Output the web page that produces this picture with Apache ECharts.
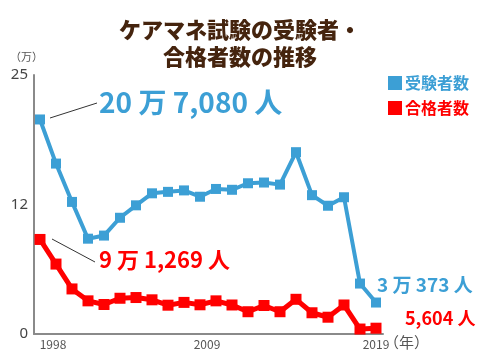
<!DOCTYPE html>
<html><head><meta charset="utf-8">
<script src="https://cdn.jsdelivr.net/npm/echarts@6/dist/echarts.min.js"></script>
<style>html,body{margin:0;padding:0;background:#fff}#c{width:480px;height:360px}</style>
</head><body><div id="c"></div>
<script>
const years = [1998,1999,2000,2001,2002,2003,2004,2005,2006,2007,2008,2009,2010,2011,2012,2013,2014,2015,2016,2017,2018,2019];
const examinees = [20.708,16.45,12.75,9.2,9.5,11.22,12.42,13.58,13.72,13.86,13.25,14.0,13.92,14.55,14.62,14.42,17.55,13.4,12.38,13.2,4.87,3.0373];
const passers = [9.1269,6.75,4.35,3.2,2.85,3.45,3.52,3.3,2.78,3.05,2.82,3.2,2.8,2.15,2.75,2.15,3.35,2.05,1.62,2.8,0.48,0.5604];
const seriesNames = ['受験者数','合格者数'];
const yTickLabels = ['0','12','25'];
const xTickLabels = ['1998','2009','2019'];
const titleLines = ['ケアマネ試験の受験者・','合格者数の推移'];
const notes = ['20 万 7,080 人','9 万 1,269 人','3 万 373 人','5,604 人'];
const BLUE = '#3c9fd5', RED = '#ff0000';
const chart = echarts.init(document.getElementById('c'));
const F = '"Noto Sans CJK JP","Noto Sans",sans-serif';
chart.setOption({
  animation:false,
  title:{text:titleLines.join('\n'),left:'center',top:11,textStyle:{fontFamily:F,fontSize:22,fontWeight:900,color:'#45240e',lineHeight:27}},
  legend:{orient:'vertical',left:383,top:70,itemWidth:14,itemHeight:14,itemGap:9,icon:'rect',
    data:[{name:seriesNames[0],textStyle:{color:BLUE}},{name:seriesNames[1],textStyle:{color:RED}}],
    textStyle:{fontFamily:F,fontSize:16,fontWeight:'bold',padding:[0,0,0,-2]}},
  grid:{left:34,right:97,top:75,bottom:26},
  xAxis:{type:'value',min:1997.625,max:2019.4375,
    axisLine:{lineStyle:{color:'#8a8a8a',width:2}},axisTick:{show:false},splitLine:{show:false},
    axisLabel:{customValues:years.filter(y=>xTickLabels.includes(String(y))),
      formatter:v=>{const i=xTickLabels.indexOf(String(Math.round(v)));return ['{a|'+xTickLabels[0]+'}','{b|'+xTickLabels[1]+'}','{c|'+xTickLabels[2]+'}'][i];},
      color:'#555',fontFamily:F,fontSize:12,margin:4,
      rich:{a:{fontFamily:F,fontSize:12,color:'#555',padding:[0,0,0,26]},b:{fontFamily:F,fontSize:12,color:'#555',padding:[0,18,0,0]},c:{fontFamily:F,fontSize:12,color:'#555'}}}},
  yAxis:{type:'value',min:0,max:25,interval:12.5,
    axisLine:{show:true,lineStyle:{color:'#8a8a8a',width:2}},axisTick:{show:false},splitLine:{show:false},
    axisLabel:{formatter:v=>yTickLabels[Math.round(v/12.5)],color:'#444',fontFamily:'"Noto Sans",sans-serif',fontSize:15,margin:6}},
  graphic:[
    {type:'text',left:10,top:51,style:{text:'（万）',font:'11px '+F,fill:'#555'}},
    {type:'text',left:384,top:335,style:{text:'（年）',font:'15px '+F,fill:'#555'}},
    {type:'line',shape:{x1:50,y1:118,x2:97,y2:103},style:{stroke:'#333',lineWidth:1}},
    {type:'line',shape:{x1:52,y1:239,x2:95,y2:262},style:{stroke:'#333',lineWidth:1}},
    {type:'text',left:99,top:88,style:{text:notes[0],font:'bold 28px '+F,fill:BLUE}},
    {type:'text',left:99,top:249,style:{text:notes[1],font:'bold 22px '+F,fill:RED}},
    {type:'text',left:377,top:275,style:{text:notes[2],font:'bold 19px '+F,fill:BLUE}},
    {type:'text',left:405,top:309,style:{text:notes[3],font:'bold 18px '+F,fill:RED}}
  ],
  series:[
    {name:seriesNames[0],type:'line',data:years.map((y,i)=>[y,examinees[i]]),symbol:'rect',symbolSize:10,
      lineStyle:{color:BLUE,width:4},itemStyle:{color:BLUE}},
    {name:seriesNames[1],type:'line',data:years.map((y,i)=>[y,passers[i]]),symbol:'rect',symbolSize:11,
      lineStyle:{color:RED,width:5},itemStyle:{color:RED}}
  ]
});
</script></body></html>
